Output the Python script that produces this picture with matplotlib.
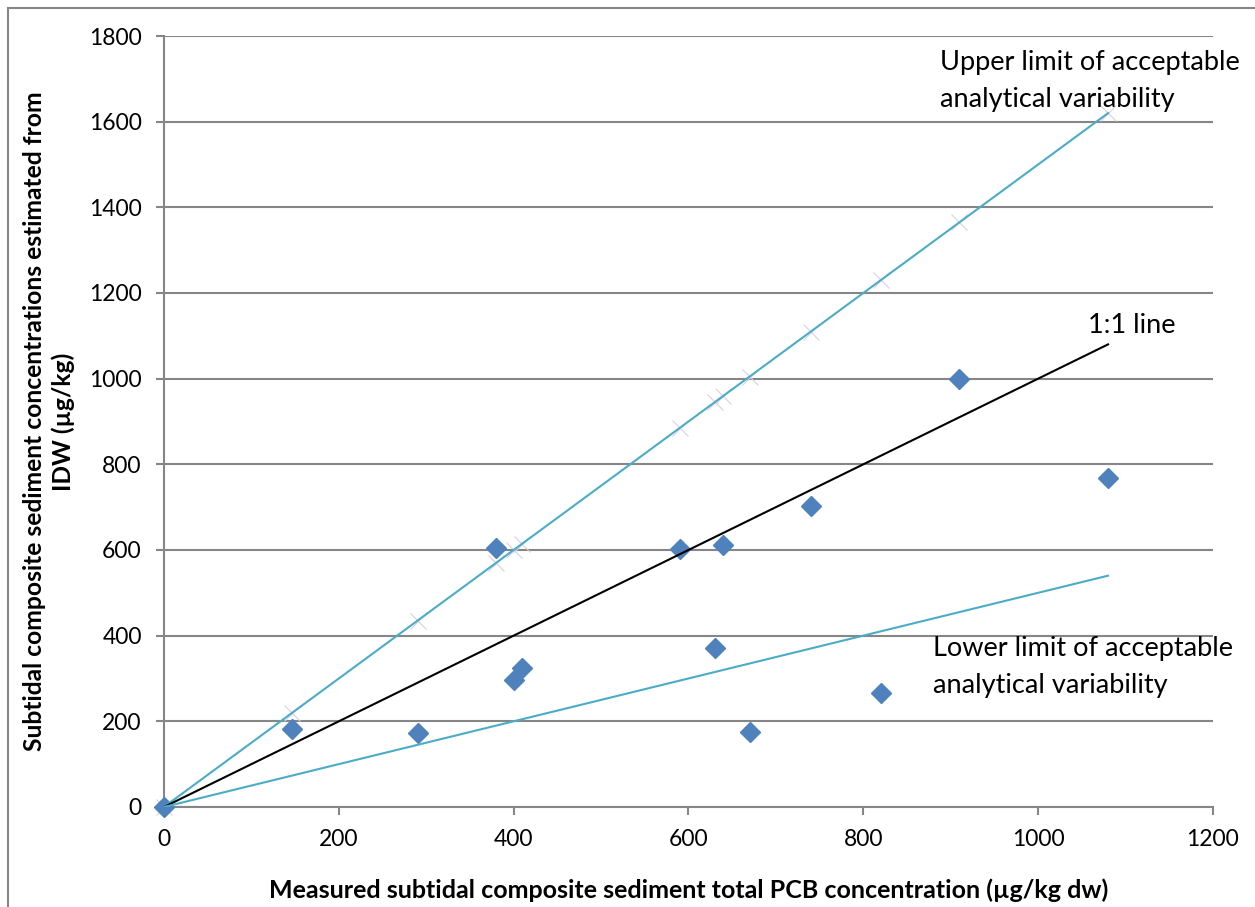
import matplotlib
matplotlib.use("Agg")
from matplotlib import pyplot as plt
from matplotlib.lines import Line2D

# measured vs IDW-estimated concentrations
measured = [0, 146, 290, 380, 400, 410, 590, 630, 640, 670, 740, 820, 910, 1080]
estimated = [0, 182, 172, 605, 297, 325, 603, 372, 612, 175, 703, 266, 1000, 768]

# reference lines (slope factors)
line_x = [0, 1080]
upper_factor = 1.5
lower_factor = 0.5

x_ticks = [0, 200, 400, 600, 800, 1000, 1200]
y_ticks = [0, 200, 400, 600, 800, 1000, 1200, 1400, 1600, 1800]

plt.rcParams['font.family'] = ['Lato', 'DejaVu Sans']

fig = plt.figure(figsize=(12.55, 9.07), dpi=100)
ax = fig.add_axes([0.1307, 0.1103, 0.8358, 0.8500])

grid_c = '#868686'
teal = '#4bacc6'

# faint markers at upper-limit positions
ax.plot(measured, [upper_factor * v for v in measured], linestyle='none', marker='x',
        markersize=12, markeredgewidth=0.8, color='#d9cfe6', zorder=2, clip_on=False)
ax.plot(measured, estimated, linestyle='none', marker='D', markersize=10,
        color='#4f81bd', zorder=3, clip_on=False)
ax.plot(line_x, [upper_factor * v for v in line_x], color=teal, lw=1.5, zorder=4)
ax.plot(line_x, line_x, color='black', lw=1.5, zorder=4)
ax.plot(line_x, [lower_factor * v for v in line_x], color=teal, lw=1.5, zorder=4)

ax.set_xlim(0, 1200)
ax.set_ylim(0, 1800)
ax.set_xticks(x_ticks)
ax.set_yticks(y_ticks)
ax.yaxis.grid(True, color=grid_c, lw=1.5)
ax.set_axisbelow(True)
for s in ['top', 'right']:
    ax.spines[s].set_visible(False)
for s in ['left', 'bottom']:
    ax.spines[s].set_color(grid_c)
    ax.spines[s].set_linewidth(1.5)
ax.tick_params(axis='both', colors=grid_c, labelcolor='black', labelsize=16.5,
               length=6, width=1.5)
ax.tick_params(axis='y', pad=10)
ax.tick_params(axis='x', pad=10)

ax.set_xlabel('Measured subtidal composite sediment total PCB concentration (µg/kg dw)',
              fontsize=18, fontweight='bold', labelpad=20)
ax.set_ylabel('Subtidal composite sediment concentrations estimated from\nIDW (µg/kg)',
              fontsize=17.7, fontweight='bold', labelpad=10, linespacing=1.3)

ax.text(888, 1695, 'Upper limit of acceptable\nanalytical variability', fontsize=19.5,
        va='center', ha='left', linespacing=1.6)
ax.text(1057, 1125, '1:1 line', fontsize=19.5, va='center', ha='left')
ax.text(880, 327, 'Lower limit of acceptable\nanalytical variability', fontsize=19.5,
        va='center', ha='left', linespacing=1.6)

# outer chart frame
fx = 8 / 1255
fy = 1 - 8 / 907
fig.add_artist(Line2D([fx, fx], [0, fy], color=grid_c, lw=1.5, transform=fig.transFigure))
fig.add_artist(Line2D([fx, 1], [fy, fy], color=grid_c, lw=1.5, transform=fig.transFigure))

fig.savefig('out.png', dpi=100)
